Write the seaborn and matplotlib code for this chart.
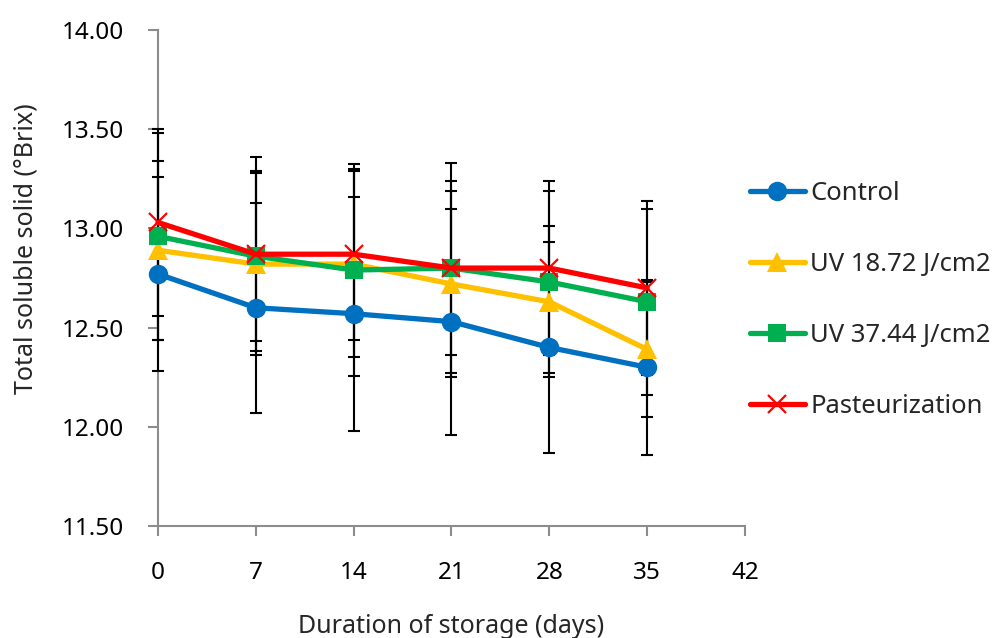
import matplotlib
matplotlib.use("Agg")
import matplotlib.pyplot as plt
import seaborn as sns
import numpy as np

# ---- data ----
days = [0, 7, 14, 21, 28, 35]
control = [12.77, 12.60, 12.57, 12.53, 12.40, 12.30]
uv18 = [12.89, 12.82, 12.82, 12.72, 12.63, 12.39]
uv37 = [12.96, 12.86, 12.79, 12.80, 12.73, 12.63]
past = [13.03, 12.87, 12.87, 12.80, 12.80, 12.70]

control_sd = [0.49, 0.53, 0.59, 0.57, 0.53, 0.44]
uv18_sd = [0.45, 0.46, 0.47, 0.47, 0.38, 0.34]
uv37_sd = [0.52, 0.43, 0.535, 0.44, 0.46, 0.47]
past_sd = [0.47, 0.49, 0.43, 0.53, 0.44, 0.44]

labels = ["Control", "UV 18.72 J/cm2", "UV 37.44 J/cm2", "Pasteurization"]
x_ticks = [0, 7, 14, 21, 28, 35, 42]
y_ticks = [11.5, 12.0, 12.5, 13.0, 13.5, 14.0]

sns.set_style("ticks")
plt.rcParams["font.family"] = ["Noto Sans", "DejaVu Sans"]

fig = plt.figure(figsize=(9.98, 6.38), dpi=100)
ax = fig.add_axes([158 / 998, 1 - 526 / 638, (745 - 158) / 998, (526 - 30) / 638])

series = [
    (control, control_sd, "#0070C0", "o", 14, 0),
    (uv18, uv18_sd, "#FFC000", "^", 15, 0),
    (uv37, uv37_sd, "#00B050", "s", 13.5, 0),
    (past, past_sd, "#FF0000", "x", 13, 1.6),
]

for (vals, sd, col, mk, ms, mew), lab in zip(series, labels):
    eb = ax.errorbar(days, vals, yerr=sd, fmt="none", ecolor="black",
                     elinewidth=1.5, capsize=4.3, capthick=1.5, zorder=2.6)
    for art in eb.lines[1]:
        art.set_clip_on(False)
    for art in eb.lines[2]:
        art.set_clip_on(False)

for i, ((vals, sd, col, mk, ms, mew), lab) in enumerate(zip(series, labels)):
    sns.lineplot(x=days, y=vals, ax=ax, color=col, marker=mk, markersize=ms,
                 markeredgecolor=col, markeredgewidth=mew, linewidth=3.8,
                 label=lab, zorder=3 + i, clip_on=False)

ax.set_xlim(0, 42)
ax.set_ylim(11.5, 14.0)
ax.set_xticks(x_ticks)
ax.set_xticklabels([str(t) for t in x_ticks])
ax.set_yticks(y_ticks)
ax.set_yticklabels([f"{t:.2f}" for t in y_ticks])

for s in ["top", "right"]:
    ax.spines[s].set_visible(False)
for s in ["left", "bottom"]:
    ax.spines[s].set_color("#8c8c8c")
    ax.spines[s].set_linewidth(1.5)

ax.tick_params(axis="both", direction="out", length=7.5, width=1.5,
               color="#8c8c8c", labelsize=17.5, labelcolor="black")
ax.tick_params(axis="y", pad=17)
ax.tick_params(axis="x", pad=18)

ax.set_xlabel("Duration of storage (days)", fontsize=18)
ax.set_ylabel("Total soluble solid (\u00b0Brix)", fontsize=18)
ax.xaxis.set_label_coords(0.5, -0.178)
ax.yaxis.set_label_coords(-0.204, 0.56)

ax.legend(loc="center left", bbox_to_anchor=(750 / 998, 1 - 300 / 638),
          bbox_transform=fig.transFigure, frameon=False, fontsize=18.5,
          handlelength=2.14, handletextpad=0.2, labelspacing=1.8,
          borderpad=0, borderaxespad=0)

fig.savefig("out.png", dpi=100)
